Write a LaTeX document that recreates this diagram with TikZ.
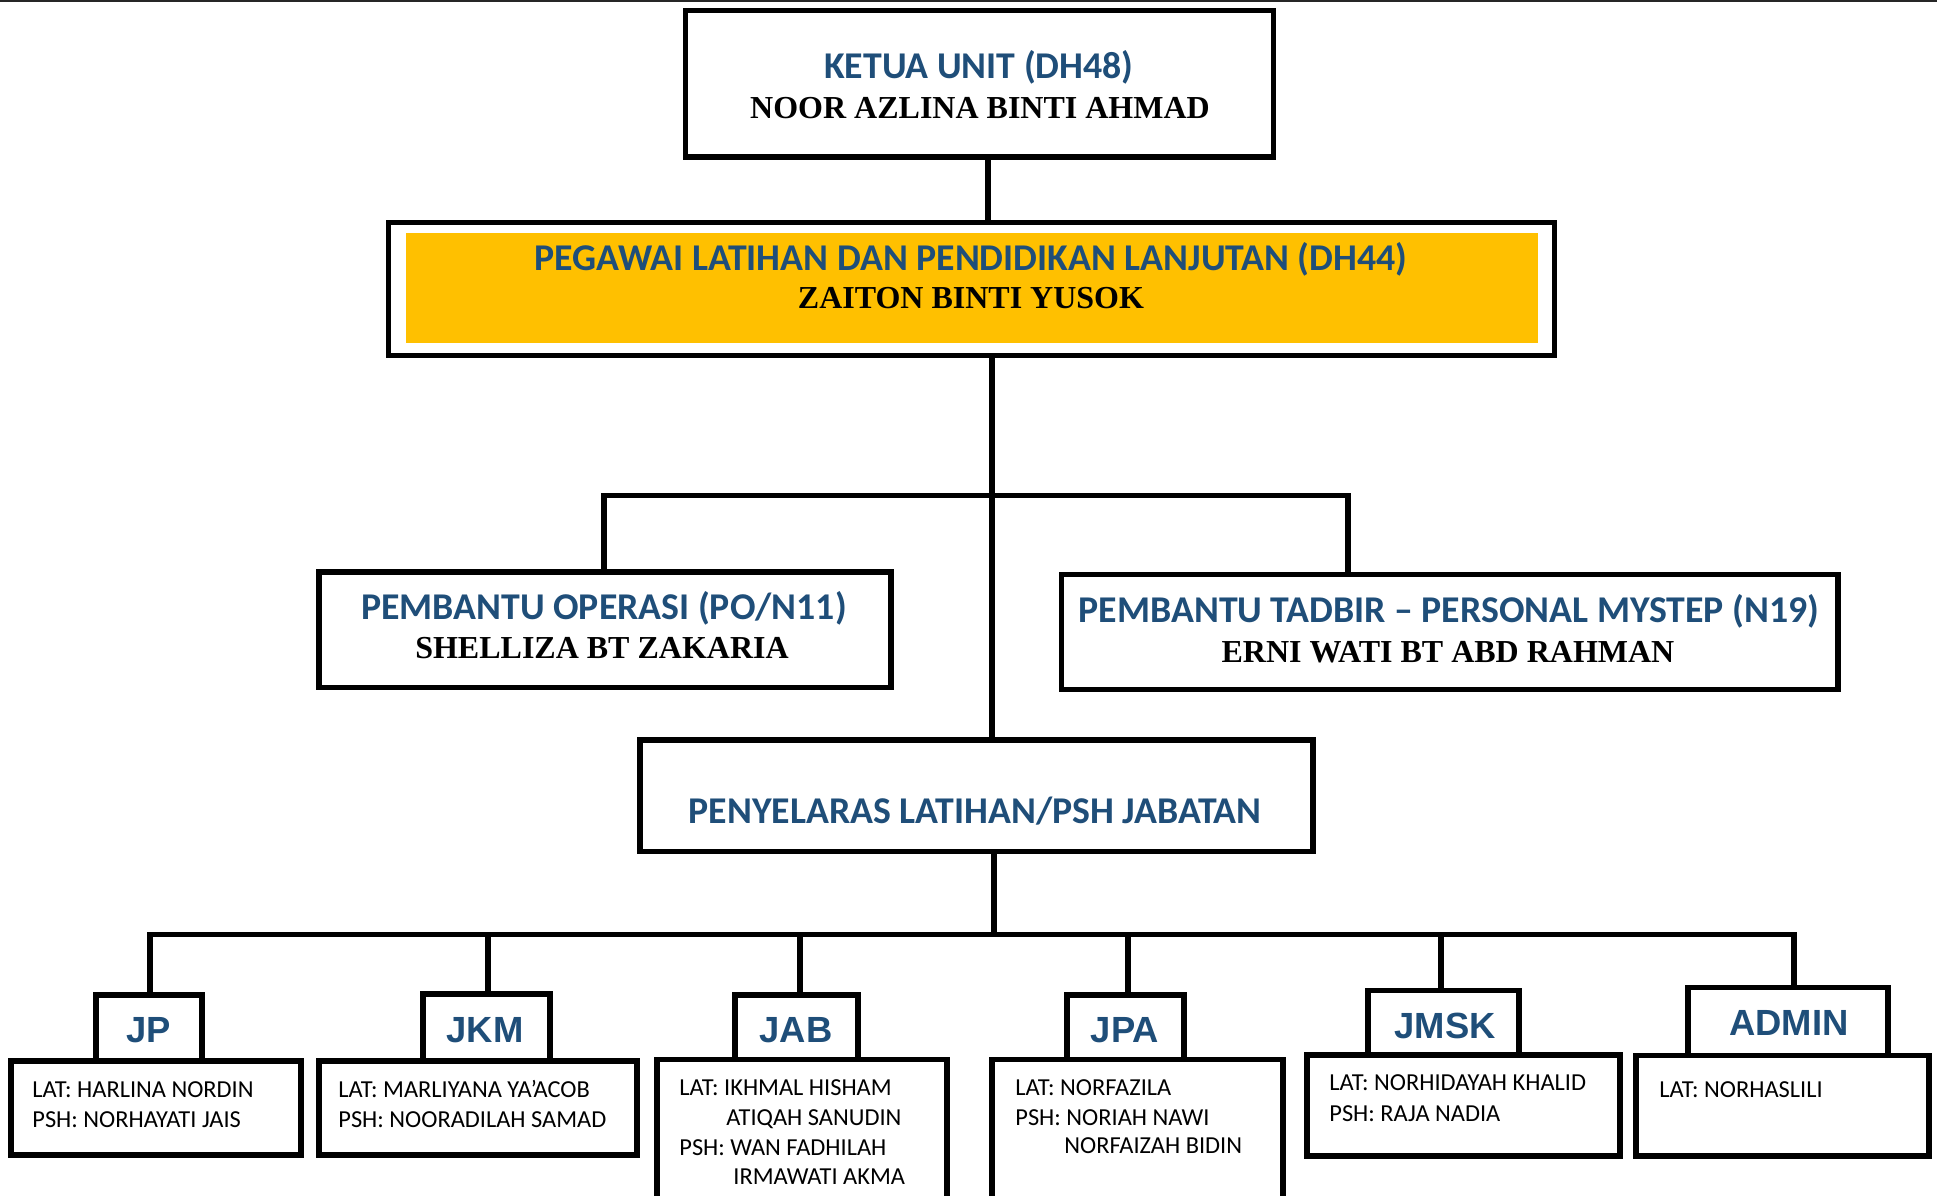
\documentclass[tikz,border=0pt]{standalone}
\usepackage{fontspec}
\setmainfont{Liberation Serif}
\newfontfamily\calfont{Carlito}
\newfontfamily\arifont{Liberation Sans}
\newfontfamily\tnrfont{Liberation Serif}
\usetikzlibrary{fit}
\definecolor{hblue}{HTML}{1F4E79}
\definecolor{gold}{HTML}{FFC000}
\begin{document}
\begin{tikzpicture}[x=0.5pt,y=-0.5pt,
  box/.style={draw=black, line width=2.6pt, inner sep=0pt, fill=white},
  goldfill/.style={fill=gold, inner sep=0pt},
  conn/.style={draw=black, line width=2.6pt},
  ttl/.style={font=\calfont\bfseries\fontsize{18.9}{22}\selectfont, text=hblue, inner sep=0pt, anchor=base},
  persname/.style={font=\tnrfont\bfseries\fontsize{16}{19}\selectfont, text=black, inner sep=0pt, anchor=base},
  dept/.style={font=\arifont\bfseries\fontsize{18.2}{21}\selectfont, text=hblue, inner sep=0pt, anchor=base},
  staff/.style={font=\calfont\fontsize{12.2}{14}\selectfont, text=black, inner sep=0pt, anchor=base west}]
\useasboundingbox (0,0) rectangle (1937,1195);
\clip (0,0) rectangle (1937,1195);
\fill[white] (0,0) rectangle (1937,1195);
% top edge line
\coordinate (topL) at (0,1);
\coordinate (topR) at (1937,1);
\draw[black!85, line width=1pt] (topL) -- (topR);

% main boxes
\node[box, fit={(685.5,10.5) (1273.5,157)}] (ketua) {};
\node[box, fit={(388.5,222.5) (1554.5,355.5)}] (pegawai) {};
\node[goldfill, fit={(406,233) (1538,343)}] (pegfill) {};
\node[box, fit={(319,572) (891,687.5)}] (po) {};
\node[box, fit={(1061.5,574.5) (1838,689.5)}] (pt) {};
\node[box, fit={(640,740) (1313,851.5)}] (pen) {};

% department header boxes
\node[box, fit={(96,995) (202,1061)}] (jp) {};
\node[box, fit={(423,994) (550,1061)}] (jkm) {};
\node[box, fit={(735,995) (858,1059.5)}] (jab) {};
\node[box, fit={(1067,995) (1184,1059.5)}] (jpa) {};
\node[box, fit={(1368,990.5) (1519,1055)}] (jmsk) {};
\node[box, fit={(1688,987.5) (1888,1055.5)}] (admin) {};

% department staff boxes
\node[box, fit={(11,1061) (301,1155)}] (jpL) {};
\node[box, fit={(319,1061) (637,1155)}] (jkmL) {};
\node[box, fit={(657,1059.5) (947,1215)}] (jabL) {};
\node[box, fit={(992,1059.5) (1283,1215)}] (jpaL) {};
\node[box, fit={(1307,1055) (1620,1156)}] (jmskL) {};
\node[box, fit={(1636,1055.5) (1929,1156)}] (adminL) {};

% connector coordinates
\coordinate (x1) at (988,0);
\coordinate (x2) at (992,0);
\coordinate (x3) at (994,0);
\coordinate (barL) at (604,495.5);
\coordinate (barR) at (1348,495.5);
\coordinate (busL) at (150,934.5);
\coordinate (busR) at (1794,934.5);
\coordinate (dJKM) at (488,934.5);
\coordinate (dJAB) at (800,934.5);
\coordinate (dJPA) at (1128,934.5);
\coordinate (dJMSK) at (1441,934.5);

% connectors
\draw[conn] (ketua.south -| x1) -- (pegawai.north -| x1);
\draw[conn] (pegawai.south -| x2) -- (pen.north -| x2);
\draw[conn] (po.north -| barL) -- (barL) -- (barR) -- (pt.north -| barR);
\draw[conn] (pen.south -| x3) -- (x3 |- busL);
\draw[conn] (jp.north -| busL) -- (busL) -- (busR) -- (admin.north -| busR);
\draw[conn] (dJKM) -- (jkm.north -| dJKM);
\draw[conn] (dJAB) -- (jab.north -| dJAB);
\draw[conn] (dJPA) -- (jpa.north -| dJPA);
\draw[conn] (dJMSK) -- (jmsk.north -| dJMSK);

% texts of main boxes
\node[ttl] (ketua-t) at (979,78) {KETUA UNIT (DH48)};
\node[persname] (ketua-n) at (980,118) {NOOR AZLINA BINTI AHMAD};
\node[ttl] (peg-t) at (971,270) {PEGAWAI LATIHAN DAN PENDIDIKAN LANJUTAN (DH44)};
\node[persname] (peg-n) at (971,308) {ZAITON BINTI YUSOK};
\node[ttl] (po-t) at (604,619) {PEMBANTU OPERASI (PO/N11)};
\node[persname] (po-n) at (602,658) {SHELLIZA BT ZAKARIA};
\node[ttl] (pt-t) at (1449,622) {PEMBANTU TADBIR – PERSONAL MYSTEP (N19)};
\node[persname] (pt-n) at (1448,662) {ERNI WATI BT ABD RAHMAN};
\node[ttl] (pen-t) at (975,823) {PENYELARAS LATIHAN/PSH JABATAN};

% department labels
\node[dept] (jp-t) at (149,1042) {JP};
\node[dept] (jkm-t) at (485,1042) {JKM};
\node[dept] (jab-t) at (796,1042) {JAB};
\node[dept] (jpa-t) at (1125,1042) {JPA};
\node[dept] (jmsk-t) at (1445,1038) {JMSK};
\node[dept] (admin-t) at (1789,1035) {ADMIN};

% staff texts
\node[staff] (jp-1) at (32,1097) {LAT: HARLINA NORDIN};
\node[staff] (jp-2) at (32,1127) {PSH: NORHAYATI JAIS};
\node[staff] (jkm-1) at (338,1097) {LAT: MARLIYANA YA’ACOB};
\node[staff] (jkm-2) at (338,1127) {PSH: NOORADILAH SAMAD};
\node[staff] (jab-1) at (679,1095) {LAT: IKHMAL HISHAM};
\node[staff] (jab-2) at (726,1125) {ATIQAH SANUDIN};
\node[staff] (jab-3) at (679,1155) {PSH: WAN FADHILAH};
\node[staff] (jab-4) at (733,1184) {IRMAWATI AKMA};
\node[staff] (jpa-1) at (1015,1095) {LAT: NORFAZILA};
\node[staff] (jpa-2) at (1015,1125) {PSH: NORIAH NAWI};
\node[staff] (jpa-3) at (1064,1153) {NORFAIZAH BIDIN};
\node[staff] (jmsk-1) at (1329,1090) {LAT: NORHIDAYAH KHALID};
\node[staff] (jmsk-2) at (1329,1121) {PSH: RAJA NADIA};
\node[staff] (admin-1) at (1659,1097) {LAT: NORHASLILI};
\end{tikzpicture}
\end{document}
